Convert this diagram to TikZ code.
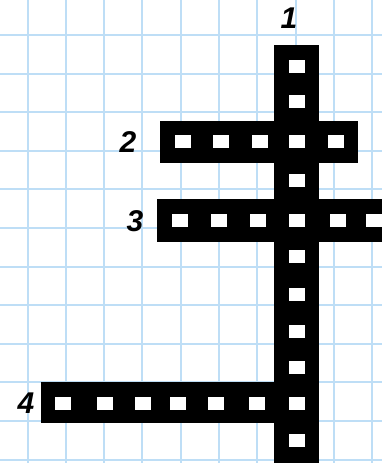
\documentclass[tikz,border=0pt]{standalone}
\usepackage{fontspec}
\setmainfont{Liberation Sans}
\definecolor{gridblue}{RGB}{190,222,246}
\begin{document}
\begin{tikzpicture}[x=1pt,y=-1pt,
  gridline/.style={draw=gridblue,line width=2pt},
  bar/.style={fill=black,draw=none,rectangle,inner sep=0pt,outer sep=0pt,anchor=north west},
  cellsq/.style={fill=white,draw=none,rectangle,minimum width=16pt,minimum height=13pt,inner sep=0pt,outer sep=0pt},
  lbl/.style={inner sep=0pt,font=\fontsize{30}{30}\selectfont\bfseries\itshape}]
\useasboundingbox (0,0) rectangle (382,463);
\clip (0,0) rectangle (382,463);
\fill[white] (0,0) rectangle (382,463);
% grid
\foreach \gx in {27.5,65.8,104.1,142.4,180.7,219,257.3,295.6,333.9,372.2}
  \draw[gridline] (\gx,0) -- (\gx,463);
\foreach \gy in {-3.6,35,73.6,112.2,150.8,189.4,228,266.6,305.2,343.8,382.4,421,459.6}
  \draw[gridline] (0,\gy) -- (382,\gy);
% bars
\node[bar,minimum width=45pt,minimum height=425pt] (w1) at (274,45) {};
\node[bar,minimum width=198pt,minimum height=42pt] (w2) at (160,121) {};
\node[bar,minimum width=240pt,minimum height=43pt] (w3) at (157,199) {};
\node[bar,minimum width=278pt,minimum height=41pt] (w4) at (41,382) {};
% word 1 cells
\foreach \cy [count=\i] in {66.5,101.5,141.5,180,220.5,256,294,331,367.5,403.5,440.5}
  \node[cellsq] (a\i) at (297,\cy) {};
% word 2 cells
\foreach \cx [count=\i] in {182.5,221,260,297,336}
  \node[cellsq] (b\i) at (\cx,141.5) {};
% word 3 cells
\foreach \cx [count=\i] in {179.5,219,258,297,338,374}
  \node[cellsq] (c\i) at (\cx,220.5) {};
% word 4 cells
\foreach \cx [count=\i] in {63,105,142.5,178,216,256.5,297}
  \node[cellsq] (d\i) at (\cx,403.5) {};
% labels
\node[lbl] (l1) at (289,18) {1};
\node[lbl] (l2) at (128,142) {2};
\node[lbl] (l3) at (135,221) {3};
\node[lbl] (l4) at (26,403) {4};
\end{tikzpicture}
\end{document}
